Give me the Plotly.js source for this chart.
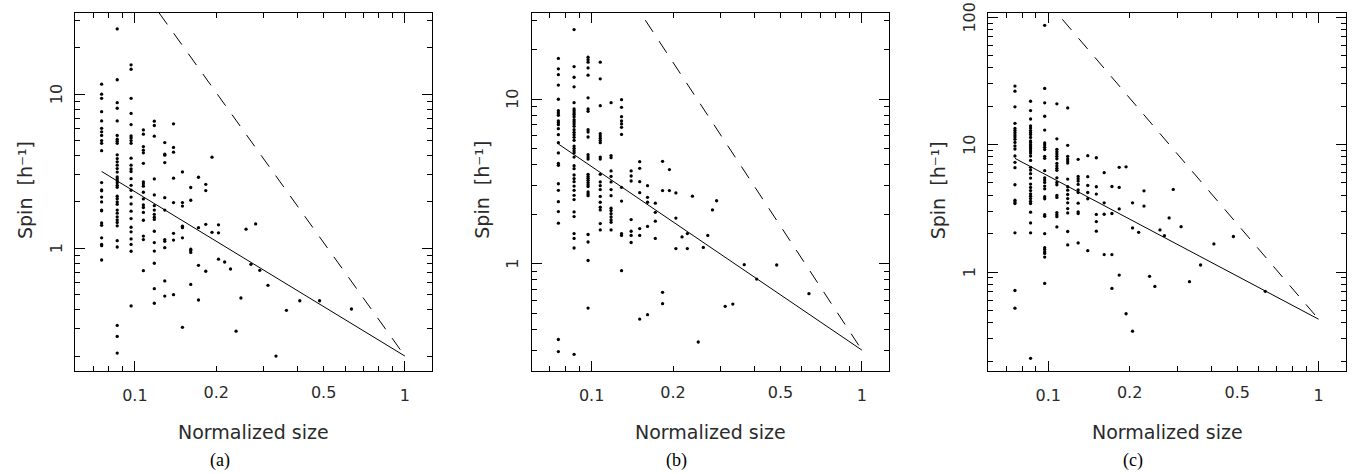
<!DOCTYPE html>
<html>
<head>
<meta charset="utf-8">
<script src="https://cdn.plot.ly/plotly-3.0.1.min.js"></script>
<style>html,body{margin:0;padding:0;background:#fff;}#chart{width:1366px;height:474px;}</style>
</head>
<body>
<div id="chart"></div>
<script>
// ---------------- DATA ----------------
// Panel (a): columns of normalized size, each with its spin values [h^-1]
const sizeColsA = [0.0753, 0.086, 0.0968, 0.1075, 0.118, 0.129, 0.139, 0.15, 0.161, 0.172, 0.183, 0.193, 0.204, 0.215, 0.226, 0.237, 0.247, 0.258, 0.269, 0.28, 0.29, 0.311, 0.333, 0.364, 0.408, 0.483, 0.634];
const spinColsA = [
  [11.6,10.0,9.4,7.7,6.7,6.0,5.7,5.4,5.0,4.8,4.3,2.67,2.39,2.36,2.15,2.0,1.77,1.75,1.46,1.41,1.17,1.06,1.04,0.84],
  [26.5,12.4,8.8,8.1,6.7,5.4,5.1,4.95,4.8,4.04,3.82,3.64,3.46,3.29,3.12,2.90,2.82,2.74,2.66,2.56,2.49,2.18,2.10,2.0,1.93,1.77,1.69,1.60,1.53,1.47,1.40,1.12,1.02,0.316,0.268,0.209],
  [15.5,14.5,9.4,7.5,6.35,5.36,5.2,5.0,4.8,3.84,3.46,3.27,3.15,2.83,2.56,2.38,2.15,1.94,1.74,1.56,1.37,1.28,1.15,1.06,0.957,0.423],
  [5.86,5.5,4.57,4.33,4.16,3.56,2.70,2.62,2.53,2.31,2.09,1.91,1.84,1.71,1.52,1.20,1.14,0.716],
  [6.68,6.26,5.34,2.82,2.22,1.89,1.77,1.66,1.59,1.54,1.29,1.09,0.96,0.80,0.547,0.44],
  [4.85,4.08,4.02,3.60,2.13,1.77,1.14,1.11,1.01,0.614,0.49],
  [6.42,4.51,4.2,2.85,1.98,1.25,1.13,0.50],
  [3.13,1.98,1.88,1.39,1.36,1.17,0.307],
  [2.48,2.05,0.986,0.966,0.94,0.583],
  [2.89,1.36,0.776,0.462],
  [2.6,2.37,1.43,0.71],
  [3.9,1.27],
  [1.42,1.26,0.85],
  [0.815],[0.734],[0.29],[0.476],[1.33],[0.787],[1.44],[0.72],[0.575],[0.2],[0.396],[0.457],[0.457],[0.404]
];
const fitA = {size: [0.0753, 1], spin: [3.15, 0.2]};
const limitA = {size: [0.123, 1], spin: [33.6, 0.2]};

// Panel (b)
const sizeColsB = [0.0753, 0.0861, 0.097, 0.1076, 0.118, 0.129, 0.14, 0.1506, 0.161, 0.172, 0.183, 0.194, 0.205, 0.216, 0.226, 0.236, 0.248, 0.259, 0.269, 0.28, 0.29, 0.312, 0.333, 0.367, 0.408, 0.484, 0.637];
const spinColsB = [
  [17.7,15.3,14.1,12.2,10.0,8.53,8.26,8.0,7.38,7.21,7.01,6.63,6.1,5.45,4.72,4.08,3.97,3.07,2.8,2.39,2.08,1.77,0.348,0.294],
  [26.5,15.8,13.6,11.9,9.53,8.73,8.49,8.26,8.07,7.84,7.52,7.31,7.08,6.85,6.54,6.3,6.1,5.87,5.63,5.2,5.04,4.87,4.72,4.46,3.95,3.79,3.47,3.3,3.16,2.97,2.8,2.61,2.46,2.07,1.94,1.53,1.43,1.25,0.283],
  [18.0,17.4,16.8,15.5,14.0,10.2,8.73,8.45,6.54,6.33,5.9,4.61,4.46,4.34,3.5,3.4,3.31,3.22,3.12,3.03,2.95,2.74,2.66,2.6,1.51,1.36,1.05,0.54],
  [16.8,13.3,9.14,6.18,5.98,5.79,5.61,5.45,4.46,4.34,3.5,3.15,2.99,2.83,2.57,2.37,2.21,2.13,1.76,1.61],
  [9.53,4.55,4.42,3.67,3.4,3.15,2.83,2.6,2.18,2.11,2.02,1.93,1.85,1.79,1.61],
  [9.95,8.93,7.84,7.38,7.08,6.76,6.12,2.92,2.41,1.53,1.49,0.91],
  [3.67,3.42,3.19,1.86,1.58,1.49,1.35],
  [4.18,3.81,3.16,2.71,1.64,1.49,0.463],
  [2.99,2.54,2.37,1.69,0.492],
  [2.34,2.06,1.82,1.43],
  [4.2,2.79,0.673,0.574],
  [3.74,2.79],
  [2.7,1.9,1.24],
  [1.46],[1.53,1.24],[2.58],[0.336],[1.26],[1.49],[2.13],[2.42],[0.553],[0.571],[0.99],[0.81],[0.986],[0.66]
];
const fitB = {size: [0.0753, 1], spin: [5.35, 0.30]};
const limitB = {size: [0.158, 1], spin: [30.2, 0.30]};

// Panel (c)
const sizeColsC = [0.0753, 0.086, 0.097, 0.1076, 0.118, 0.129, 0.14, 0.1506, 0.161, 0.172, 0.183, 0.194, 0.205, 0.216, 0.226, 0.237, 0.248, 0.259, 0.269, 0.28, 0.29, 0.31, 0.333, 0.366, 0.41, 0.484, 0.635];
const spinColsC = [
  [28.8,26.3,19.8,14.7,13.4,12.9,12.4,11.9,11.5,11.0,10.4,9.76,9.24,8.14,7.26,6.59,4.84,3.66,3.55,3.45,2.03,0.716,0.52],
  [21.9,18.5,15.9,14.0,13.5,12.9,12.4,12.0,11.4,10.7,10.4,10.0,9.63,9.29,8.91,8.59,8.14,7.52,6.63,6.31,5.91,5.46,4.9,4.61,4.36,4.11,3.94,3.77,3.59,3.45,2.95,2.43,2.03,0.21],
  [86.4,27.6,21.3,16.7,13.0,10.3,9.93,9.52,9.14,8.09,7.8,6.24,5.49,5.27,5.05,4.73,4.5,3.9,3.76,2.82,2.74,2.0,1.55,1.50,1.44,1.40,1.31,0.814],
  [20.9,11.1,9.18,8.8,8.44,8.09,7.75,7.12,6.78,6.51,6.28,5.49,5.05,4.84,3.99,3.85,2.93,2.82,2.72,2.26],
  [19.4,9.87,8.09,7.71,7.43,7.16,5.36,4.67,4.39,4.06,3.77,3.49,3.15,2.91,2.08,1.63],
  [7.66,5.63,5.39,5.17,4.87,4.42,4.21,3.47,2.97,2.88,1.69],
  [8.19,5.6,4.78,4.21,3.76,1.47],
  [7.89,4.67,4.09,2.83,2.49,2.09],
  [6.02,3.49,2.84,1.37],
  [4.69,2.88,1.37,0.743],
  [6.63,4.61,3.13,0.946],
  [6.7,0.47],
  [3.49,2.22,0.343],
  [2.05],[4.34,3.29],[0.924],[0.77],[2.14],[1.93],[2.66],[4.45],[2.27],[0.84],[1.135],[1.66],[1.9],[0.705]
];
const fitC = {size: [0.0753, 1], spin: [7.8, 0.426]};
const limitC = {size: [0.1127, 1], spin: [96.4, 0.426]};

// Axis ticks and labels
const xDecadeVals = [0.1, 1];
const xDecadeText = ['0.1', '1'];
const xMidVals = [0.2, 0.5];
const xMidText = ['0.2', '0.5'];
const xMinorVals = [0.07, 0.08, 0.09, 0.2, 0.3, 0.4, 0.5, 0.6, 0.7, 0.8, 0.9];
const yLabelVals = [1, 10, 100];
const yLabelText = ['1', '10', '100'];
const yMinorVals = [0.2,0.3,0.4,0.5,0.6,0.7,0.8,0.9,2,3,4,5,6,7,8,9,20,30,40,50,60,70,80,90];

const xTitle = 'Normalized size';
const yTitle = 'Spin  [h\u207B\u00B9]';
const panelLabels = ['(a)', '(b)', '(c)'];

// ---------------- BUILD ----------------
function flatten(cols, vals) {
  const xs = [], ys = [];
  cols.forEach((c, i) => vals[i].forEach(v => { xs.push(c); ys.push(v); }));
  return {xs, ys};
}

const panels = [
  {cols: sizeColsA, vals: spinColsA, fit: fitA, lim: limitA, xd: [75, 432], yr: [0.16, 33.6]},
  {cols: sizeColsB, vals: spinColsB, fit: fitB, lim: limitB, xd: [531.7, 889], yr: [0.224, 33.4]},
  {cols: sizeColsC, vals: spinColsC, fit: fitC, lim: limitC, xd: [988.3, 1345.7], yr: [0.167, 108]}
];

const W = 1366, H = 474;
const yDom = [1 - 371 / H, 1 - 13 / H];
const xRange = [Math.log10(0.06), Math.log10(1.26)];
const font = 'DejaVu Sans, Liberation Sans, sans-serif';
const txtColor = '#2a2a2a';
const tickFont = {family: font, size: 16, color: txtColor};

const traces = [];
const layout = {
  width: W, height: H,
  margin: {l: 0, r: 0, t: 0, b: 0},
  paper_bgcolor: '#fff', plot_bgcolor: '#fff',
  showlegend: false,
  annotations: []
};

panels.forEach((p, i) => {
  const n = i + 1;
  const xa = n === 1 ? 'x' : 'x' + n;
  const ya = n === 1 ? 'y' : 'y' + n;
  const xo = 'x' + (n + 3);
  const d = flatten(p.cols, p.vals);
  traces.push({x: d.xs, y: d.ys, xaxis: xa, yaxis: ya, type: 'scatter', mode: 'markers',
    marker: {color: '#000', size: 3.3}});
  traces.push({x: p.fit.size, y: p.fit.spin, xaxis: xa, yaxis: ya, type: 'scatter', mode: 'lines',
    line: {color: '#000', width: 1}});
  traces.push({x: p.lim.size, y: p.lim.spin, xaxis: xa, yaxis: ya, type: 'scatter', mode: 'lines',
    line: {color: '#000', width: 1, dash: '14px,11px'}});
  // overlay axis carrying the 0.2 / 0.5 labels
  traces.push({x: [], y: [], xaxis: xo, yaxis: ya, type: 'scatter', mode: 'markers', hoverinfo: 'skip'});

  const xDomain = [p.xd[0] / W, p.xd[1] / W];
  layout['xaxis' + (n === 1 ? '' : n)] = {
    domain: xDomain, anchor: ya, type: 'log', range: xRange,
    showline: true, linecolor: '#000', linewidth: 1, mirror: 'ticks',
    ticks: 'inside', ticklen: 10, tickwidth: 1, tickcolor: '#000',
    tickmode: 'array', tickvals: xDecadeVals, ticktext: xDecadeText,
    minor: {tickmode: 'array', tickvals: xMinorVals, ticks: 'inside', ticklen: 5, tickwidth: 1, tickcolor: '#000', showgrid: false},
    showgrid: false, zeroline: false, ticklabelstandoff: 10,
    tickfont: tickFont
  };
  layout['xaxis' + (n + 3)] = {
    overlaying: xa, anchor: ya, type: 'log', range: xRange,
    showline: false, ticks: '',
    tickmode: 'array', tickvals: xMidVals, ticktext: xMidText,
    showgrid: false, zeroline: false, ticklabelstandoff: 10,
    tickfont: tickFont
  };
  const lv = yLabelVals.filter(v => v >= p.yr[0] && v <= p.yr[1]);
  layout['yaxis' + (n === 1 ? '' : n)] = {
    domain: yDom, anchor: xa, type: 'log', range: [Math.log10(p.yr[0]), Math.log10(p.yr[1])],
    showline: true, linecolor: '#000', linewidth: 1, mirror: 'ticks',
    ticks: 'inside', ticklen: 10, tickwidth: 1, tickcolor: '#000',
    tickmode: 'array', tickvals: lv, showticklabels: false,
    minor: {tickmode: 'array', tickvals: yMinorVals, ticks: 'inside', ticklen: 5, tickwidth: 1, tickcolor: '#000', showgrid: false},
    showgrid: false, zeroline: false
  };
  // rotated y tick labels (read bottom to top, as in the reference)
  lv.forEach(v => {
    layout.annotations.push({text: yLabelText[yLabelVals.indexOf(v)], xref: 'paper', yref: ya,
      x: (p.xd[0] - 19) / W, y: Math.log10(v), xanchor: 'center', yanchor: 'middle', textangle: -90,
      showarrow: false, font: tickFont});
  });

  // x title
  layout.annotations.push({text: xTitle, xref: 'paper', yref: 'paper',
    x: (p.xd[0] + p.xd[1]) / 2 / W, y: 1 - 432 / H, xanchor: 'center', yanchor: 'middle',
    showarrow: false, font: {family: font, size: 19, color: txtColor}});
  // y title
  layout.annotations.push({text: yTitle, xref: 'paper', yref: 'paper',
    x: (p.xd[0] - 50) / W, y: 1 - 190 / H, xanchor: 'center', yanchor: 'middle', textangle: -90,
    showarrow: false, font: {family: font, size: 19, color: txtColor}});
  // panel label
  layout.annotations.push({text: panelLabels[i], xref: 'paper', yref: 'paper',
    x: ((p.xd[0] + p.xd[1]) / 2 - 34) / W, y: 1 - 460 / H, xanchor: 'center', yanchor: 'middle',
    showarrow: false, font: {family: 'Liberation Serif, Times New Roman, serif', size: 18, color: '#000'}});
});

Plotly.newPlot('chart', traces, layout, {displayModeBar: false, staticPlot: true});
</script>
</body>
</html>
